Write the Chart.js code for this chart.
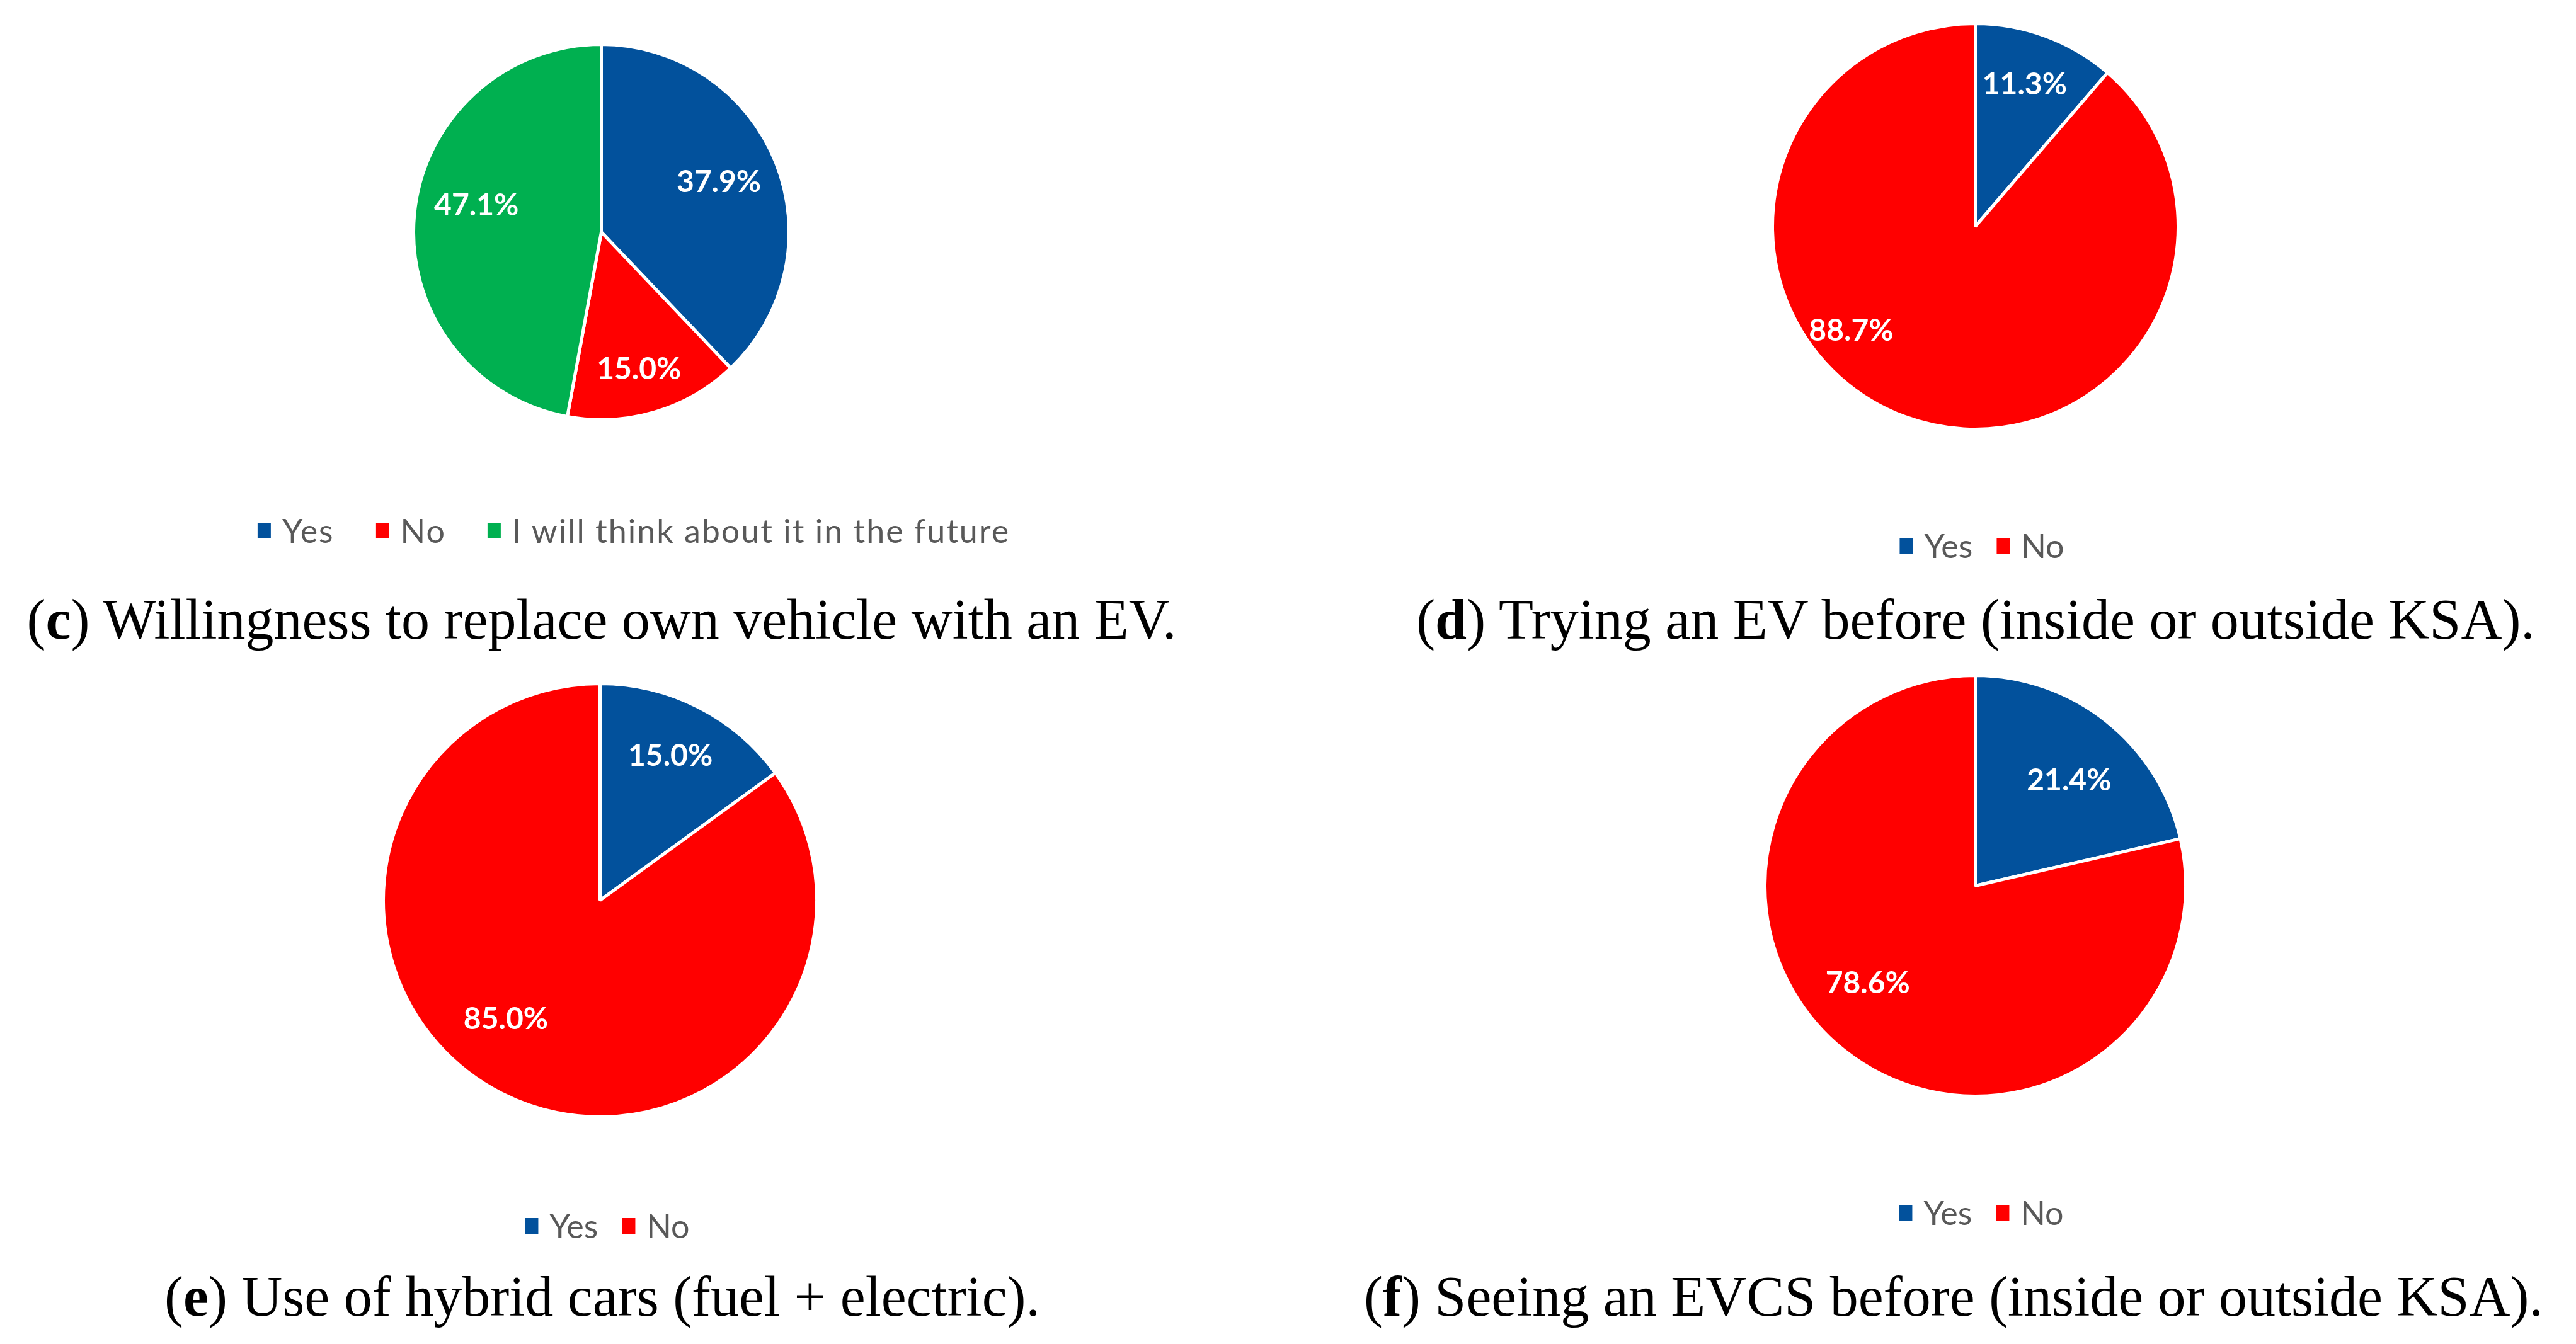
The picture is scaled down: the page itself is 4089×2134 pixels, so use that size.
<!DOCTYPE html>
<html>
<head>
<meta charset="utf-8">
<script src="https://cdn.jsdelivr.net/npm/chart.js@4.4.1/dist/chart.umd.min.js"></script>
<style>
  body { margin: 0; background: #fff; }
  #page { position: relative; width: 4089px; height: 2134px; overflow: hidden; background: #fff; }
  .pie { position: absolute; }
  .legend { position: absolute; display: flex; align-items: center; transform: translate(-50%, -50%);
            font-family: Lato, sans-serif; font-size: 52px; color: #595959; white-space: nowrap; }
  .legend .box { display: inline-block; width: 21px; height: 25px; margin-right: 18px; }
  .caption { position: absolute; transform: translate(-50%, -50%); font-family: "Liberation Serif", serif;
             font-size: 90px; color: #000; white-space: nowrap; }
</style>
</head>
<body>
<div id="page"></div>
<script>
const replaceLabels = ["Yes", "No", "I will think about it in the future"];
const replaceValues = [37.9, 15.0, 47.1];
const yesNoLabels = ["Yes", "No"];
const triedValues = [11.3, 88.7];
const hybridValues = [15.0, 85.0];
const evcsValues = [21.4, 78.6];
const captionLetters = ["c", "d", "e", "f"];
const captionTexts = [
  "Willingness to replace own vehicle with an EV.",
  "Trying an EV before (inside or outside KSA).",
  "Use of hybrid cars (fuel + electric).",
  "Seeing an EVCS before (inside or outside KSA).",
];

const BLUE = "#02519c", RED = "#ff0000", GREEN = "#00b050";

// where each panel sits on the page; labelAt = [angle from top (deg), fraction of radius]
const panels = [
  { labels: replaceLabels, values: replaceValues, colors: [BLUE, RED, GREEN],
    cx: 954, cy: 368, r: 298, legX: 1006, legY: 842, legGap: 66, legSpacing: 2, capX: 955, capY: 983,
    labelAt: [[67, 0.68], [164.7, 0.76], [281.9, 0.68]] },
  { labels: yesNoLabels, values: triedValues, colors: [BLUE, RED],
    cx: 3135, cy: 359, r: 322, legX: 3146, legY: 866, legGap: 38, legSpacing: 0, capX: 3136, capY: 983,
    labelAt: [[19.2, 0.74], [229.9, 0.80]] },
  { labels: yesNoLabels, values: hybridValues, colors: [BLUE, RED],
    cx: 952, cy: 1429, r: 344, legX: 964, legY: 1946, legGap: 38, legSpacing: 0, capX: 956, capY: 2058,
    labelAt: [[26, 0.74], [218.4, 0.70]] },
  { labels: yesNoLabels, values: evcsValues, colors: [BLUE, RED],
    cx: 3135, cy: 1406, r: 334, legX: 3145, legY: 1925, legGap: 38, legSpacing: 0, capX: 3101, capY: 2058,
    labelAt: [[41.7, 0.67], [227.8, 0.69]] },
];

const pctLabels = {
  id: "pctLabels",
  afterDatasetsDraw(chart, args, opts) {
    const ctx = chart.ctx;
    const meta = chart.getDatasetMeta(0);
    const values = chart.data.datasets[0].data;
    ctx.save();
    ctx.font = "bold 48px Lato";
    ctx.fillStyle = "#fff";
    ctx.textAlign = "center";
    ctx.textBaseline = "middle";
    meta.data.forEach((arc, i) => {
      const p = arc.getProps(["x", "y", "startAngle", "endAngle", "outerRadius"], true);
      let ang = (p.startAngle + p.endAngle) / 2, frac = 0.7;
      if (opts.at && opts.at[i]) {
        ang = ((opts.at[i][0] - 90) * Math.PI) / 180;
        frac = opts.at[i][1];
      }
      ctx.fillText(values[i].toFixed(1) + "%",
        p.x + Math.cos(ang) * frac * p.outerRadius,
        p.y + Math.sin(ang) * frac * p.outerRadius);
    });
    ctx.restore();
  },
};

const page = document.getElementById("page");
const BW = 5;

panels.forEach((pn, k) => {
  const size = 2 * pn.r + BW;
  const wrap = document.createElement("div");
  wrap.className = "pie";
  wrap.style.left = pn.cx - size / 2 + "px";
  wrap.style.top = pn.cy - size / 2 + "px";
  const canvas = document.createElement("canvas");
  canvas.width = size;
  canvas.height = size;
  canvas.style.width = size + "px";
  canvas.style.height = size + "px";
  wrap.appendChild(canvas);
  page.appendChild(wrap);

  new Chart(canvas, {
    type: "pie",
    data: {
      labels: pn.labels,
      datasets: [{ data: pn.values, backgroundColor: pn.colors, borderColor: "#fff", borderWidth: BW }],
    },
    options: {
      responsive: false,
      devicePixelRatio: 1,
      animation: false,
      layout: { padding: 0 },
      plugins: { legend: { display: false }, tooltip: { enabled: false }, pctLabels: { at: pn.labelAt } },
    },
    plugins: [pctLabels],
  });

  // legend
  const leg = document.createElement("div");
  leg.className = "legend";
  leg.style.left = pn.legX + "px";
  leg.style.top = pn.legY + "px";
  leg.style.letterSpacing = pn.legSpacing + "px";
  pn.labels.forEach((lab, i) => {
    const box = document.createElement("span");
    box.className = "box";
    box.style.background = pn.colors[i];
    const txt = document.createElement("span");
    txt.textContent = lab;
    if (i < pn.labels.length - 1) txt.style.marginRight = pn.legGap + "px";
    leg.appendChild(box);
    leg.appendChild(txt);
  });
  page.appendChild(leg);

  // caption
  const cap = document.createElement("div");
  cap.className = "caption";
  cap.style.left = pn.capX + "px";
  cap.style.top = pn.capY + "px";
  cap.innerHTML = "(<b>" + captionLetters[k] + "</b>) " + captionTexts[k];
  page.appendChild(cap);
});
</script>
</body>
</html>
